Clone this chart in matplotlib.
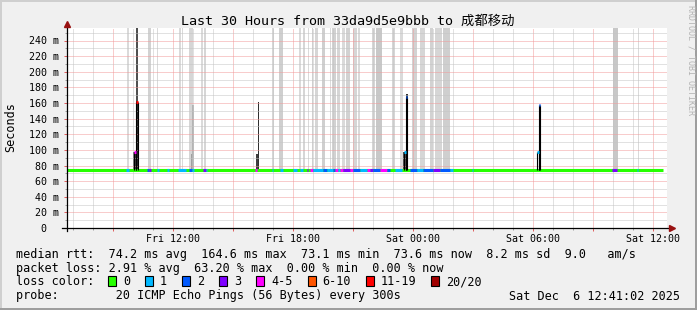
import datetime as dt
import matplotlib
matplotlib.use('Agg')
import matplotlib.pyplot as plt
import matplotlib.dates as mdates
from matplotlib.ticker import MultipleLocator, FuncFormatter
from matplotlib.patches import Rectangle

# janela do grafico (30 horas)
inicio = dt.datetime(2025, 12, 5, 6, 41, 2)
fim = dt.datetime(2025, 12, 6, 12, 41, 2)
primeira_amostra = '05 06:41'
ultima_amostra = '06 12:29'

mediana_base = 74.0

# classes de perda
loss_labels = ['0', '1', '2', '3', '4-5', '6-10', '11-19', '20/20']
loss_colors = ['#26ff00', '#00b8ff', '#0059ff', '#7e00ff', '#ff00ff', '#ff5500', '#ff0000', '#a10000']

# faixas de "fumaca" cinza (inicio, minutos, tom)
band_start = ['05 09:42', '05 10:44', '05 11:10', '05 12:18', '05 12:26', '05 12:47', '05 13:23',
              '05 13:32', '05 16:56', '05 17:17', '05 18:18', '05 18:30', '05 18:44', '05 18:56',
              '05 19:05', '05 19:26', '05 19:50', '05 19:56', '05 20:12', '05 20:26', '05 20:38',
              '05 20:59', '05 21:14', '05 21:56', '05 22:08', '05 22:56', '05 23:20', '05 23:56',
              '06 00:20', '06 00:50', '06 01:05', '06 01:29', '06 09:59', '06 11:14']
band_minutes = [5, 10, 5, 5, 4, 12, 5, 6, 5, 12, 4, 5, 4, 4, 9, 9, 4, 12, 8, 8, 12,
                12, 6, 9, 18, 9, 9, 15, 15, 9, 21, 21, 15, 4]
band_shade = ['#dadada', '#d2d2d2', '#dadada', '#dadada', '#dadada', '#d6d6d6', '#dadada',
              '#d6d6d6', '#d6d6d6', '#cfcfcf', '#dadada', '#d6d6d6', '#dadada', '#cfcfcf',
              '#d6d6d6', '#cfcfcf', '#dadada', '#d2d2d2', '#d6d6d6', '#dadada', '#d2d2d2',
              '#d6d6d6', '#dadada', '#d6d6d6', '#c8c8c8', '#d6d6d6', '#dadada', '#d2d2d2',
              '#d6d6d6', '#d2d2d2', '#d6d6d6', '#cfcfcf', '#c8c8c8', '#dadada']

# fumaca escura perto dos picos
spk_smoke_start = ['05 10:00', '05 10:08', '05 10:07', '05 12:52', '05 12:55', '05 16:08', '05 16:13',
                   '05 23:28', '05 23:37']
spk_smoke_minutes = [8, 5, 6, 8, 7, 9, 3, 10, 6]
spk_smoke_top = [97, 256, 162, 95, 158, 95, 161, 97, 172]
spk_smoke_color = ['#3c3c3c', '#505050', '#2a2a2a', '#a0a0a0', '#b4b4b4', '#404040', '#303030',
                   '#505050', '#383838']

# segmentos coloridos da linha da mediana (inicio, minutos, classe)
loss_start = ['05 09:38', '05 10:41', '05 10:47', '05 11:11', '05 11:41', '05 12:14', '05 12:47',
              '05 12:56', '05 13:29', '05 13:38', '05 16:05', '05 16:56', '05 17:20', '05 17:59',
              '05 18:20', '05 18:41', '05 18:50', '05 18:59', '05 19:29', '05 19:41', '05 19:59',
              '05 20:05', '05 20:14', '05 20:20', '05 20:29', '05 20:50', '05 20:59', '05 21:20',
              '05 21:41', '05 21:50', '05 21:59', '05 22:20', '05 22:41', '05 23:05', '05 23:50',
              '06 00:11', '06 00:29', '06 00:59', '06 01:20', '06 01:50', '06 02:56', '06 09:56',
              '06 11:11']
loss_minutes = [9, 6, 6, 6, 6, 24, 9, 6, 9, 3, 6, 3, 9, 12, 9, 3, 9, 30, 12, 18, 6,
                9, 6, 9, 21, 9, 21, 21, 9, 9, 21, 21, 9, 21, 21, 18, 30, 21, 30, 9, 3, 15, 3]
loss_class = [1, 2, 3, 1, 1, 1, 2, 1, 3, 1, 4, 1, 1, 1, 1, 3, 4, 1, 2, 1, 2,
              4, 1, 4, 3, 4, 2, 1, 4, 3, 2, 4, 2, 1, 2, 1, 2, 3, 2, 1, 1, 3, 1]

# picos da mediana
spike_start = ['05 10:03', '05 10:08', '05 23:32', '05 23:37', '06 06:11', '06 06:16']
spike_value = [97, 161, 97, 168, 97, 158]
spike_class = [4, 6, 1, 2, 1, 2]


def t(s):
    return dt.datetime.strptime('2025-12-' + s, '%Y-%m-%d %H:%M')


mono = 'DejaVu Sans Mono'
W, H = 697, 310

fig = plt.figure(figsize=(W / 100, H / 100), dpi=100)
fig.patch.set_facecolor('#f0f0f0')
ax = fig.add_axes([67 / W, 82 / H, 600 / W, 200 / H])
ax.set_facecolor('white')

passo = dt.timedelta(minutes=5)
dia = 1440.0

# fumaca
for s, m, c in zip(band_start, band_minutes, band_shade):
    ax.bar(t(s), 256 - mediana_base, width=m / dia, bottom=mediana_base, align='edge',
           color=c, linewidth=0, zorder=1)
for s, m, top, c in zip(spk_smoke_start, spk_smoke_minutes, spk_smoke_top, spk_smoke_color):
    ax.bar(t(s), top - mediana_base, width=m / dia, bottom=mediana_base, align='edge',
           color=c, linewidth=0, zorder=1.5)

# linha da mediana
ax.hlines(mediana_base, t(primeira_amostra), t(ultima_amostra), color=loss_colors[0],
          lw=2.2, capstyle='butt', zorder=3)
for s, m, k in zip(loss_start, loss_minutes, loss_class):
    ax.hlines(mediana_base, t(s), t(s) + dt.timedelta(minutes=m), color=loss_colors[k],
              lw=2.2, capstyle='butt', zorder=4)
for s, v, k in zip(spike_start, spike_value, spike_class):
    ts = t(s)
    ax.vlines([ts, ts + passo], mediana_base, v, color='black', lw=0.8, zorder=5)
    ax.hlines(v, ts, ts + passo, color=loss_colors[k], lw=2.2, capstyle='butt', zorder=6)

ax.set_xlim(inicio, fim)
ax.set_ylim(0, 256)

# grades
ax.yaxis.set_major_locator(MultipleLocator(20))
ax.yaxis.set_minor_locator(MultipleLocator(10))
ax.xaxis.set_major_locator(mdates.HourLocator(byhour=range(0, 24, 3)))
ax.xaxis.set_minor_locator(mdates.HourLocator())


def fmt_x(x, pos):
    d = mdates.num2date(x)
    if d.hour % 6 == 0:
        return d.strftime('%a %H:%M')
    return ''


def fmt_y(v, pos):
    if v == 0:
        return '0  '
    return '%d m' % v


ax.xaxis.set_major_formatter(FuncFormatter(fmt_x))
ax.yaxis.set_major_formatter(FuncFormatter(fmt_y))
ax.set_axisbelow(False)
ax.grid(which='major', color='#f29a9a', linestyle=(0, (1, 1)), linewidth=0.72)
ax.grid(which='minor', color='#c4c4c4', linestyle=(0, (1, 1)), linewidth=0.72)

for sp in ax.spines.values():
    sp.set_visible(False)
ax.tick_params(which='major', length=2.5, width=0.72, color='#e06060', direction='out')
ax.tick_params(which='minor', length=1.5, width=0.72, color='#a0a0a0', direction='out')
ax.tick_params(axis='y', which='major', pad=3.3)
ax.tick_params(axis='x', which='major', pad=1.5)
for lab in ax.get_xticklabels() + ax.get_yticklabels():
    lab.set_family(mono)
    lab.set_fontsize(7.2)

# eixos com setas
ax.plot([0, 0], [-3 / 200, 1 + 4 / 200], transform=ax.transAxes, color='black', lw=0.9,
        clip_on=False, zorder=7)
ax.plot([-5 / 600, 1 + 4 / 600], [0, 0], transform=ax.transAxes, color='black', lw=0.9,
        clip_on=False, zorder=7)
ax.plot([0], [1 + 4 / 200], marker='^', ms=4, color='#991111', transform=ax.transAxes,
        clip_on=False, zorder=8)
ax.plot([1 + 5 / 600], [0], marker='>', ms=4, color='#991111', transform=ax.transAxes,
        clip_on=False, zorder=8)

# titulo e rotulos
fig.text(347.5 / W, 1 - 21.5 / H, 'Last 30 Hours from 33da9d5e9bbb to 成都移动',
         ha='center', va='center', fontsize=9.6, family=[mono, 'Noto Sans CJK SC'])
fig.text(10.5 / W, 1 - 127 / H, 'Seconds', rotation=90, ha='center', va='center',
         fontsize=8.5, family=mono)
fig.text(691.5 / W, 1 - 5 / H, 'RRDTOOL / TOBI OETIKER', rotation=-90, ha='center', va='top',
         fontsize=6, family=mono, color='#b4b4b4')

# legenda
linhas = {254.3: 'median rtt:  74.2 ms avg  164.6 ms max  73.1 ms min  73.6 ms now  8.2 ms sd  9.0   am/s',
          268.3: 'packet loss: 2.91 % avg  63.20 % max  0.00 % min  0.00 % now',
          281.7: 'loss color:',
          296.0: 'probe:        20 ICMP Echo Pings (56 Bytes) every 300s'}
for y, txt in linhas.items():
    fig.text(16 / W, 1 - y / H, txt, ha='left', va='center', fontsize=8.5, family=mono)
fig.text(680 / W, 1 - 296 / H, 'Sat Dec  6 12:41:02 2025', ha='right', va='center',
         fontsize=8.5, family=mono)

char_w = 7.09
x = 108.0
for lab, c in zip(loss_labels, loss_colors):
    fig.add_artist(Rectangle((x / W, 1 - 286 / H), 8 / W, 10 / H, transform=fig.transFigure,
                             facecolor=c, edgecolor='black', linewidth=0.8))
    fig.text((x + 15) / W, 1 - 281.7 / H, lab, ha='left', va='center', fontsize=8.5, family=mono)
    x += 30 + len(lab) * char_w

# borda 3D
fig.add_artist(Rectangle((0, 1 - 2 / H), 1, 2 / H, transform=fig.transFigure, color='#cfcfcf', lw=0))
fig.add_artist(Rectangle((0, 0), 2 / W, 1, transform=fig.transFigure, color='#cfcfcf', lw=0))
fig.add_artist(Rectangle((0, 0), 1, 2 / H, transform=fig.transFigure, color='#9e9e9e', lw=0))
fig.add_artist(Rectangle((1 - 2 / W, 0), 2 / W, 1, transform=fig.transFigure, color='#9e9e9e', lw=0))

fig.savefig('out.png', dpi=100, facecolor=fig.get_facecolor())
